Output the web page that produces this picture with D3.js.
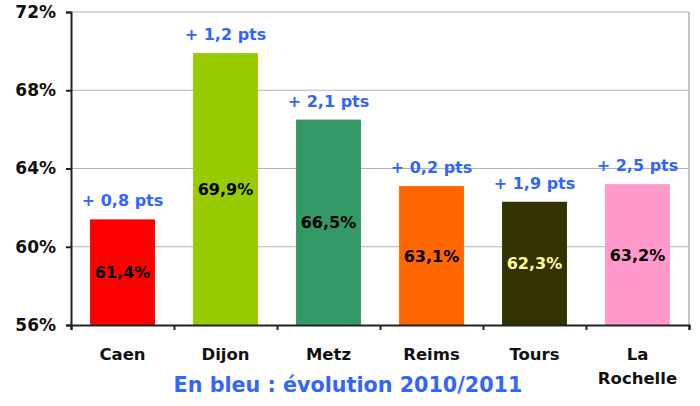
<!DOCTYPE html>
<html><head><meta charset="utf-8">
<script src="https://cdn.jsdelivr.net/npm/d3@7"></script>
<style>body{margin:0;background:#fff}svg{display:block}</style>
</head><body>
<script>
const categories = ["Caen", "Dijon", "Metz", "Reims", "Tours", "La Rochelle"];
const values = [61.4, 69.9, 66.5, 63.1, 62.3, 63.2];
const changes = ["+ 0,8 pts", "+ 1,2 pts", "+ 2,1 pts", "+ 0,2 pts", "+ 1,9 pts", "+ 2,5 pts"];
const colors = ["#ff0000", "#99cc00", "#339966", "#ff6600", "#333300", "#ff99cc"];
const labelColors = ["#000", "#000", "#000", "#000", "#ffff99", "#000"];
const yTicks = [56, 60, 64, 68, 72];
const title = "En bleu : évolution 2010/2011";

const W = 700, H = 406;
const m = {left: 71, right: 11, top: 12, bottom: 81};
const FONT = "'DejaVu Sans', sans-serif";
const BLUE = "#3366ff";

const svg = d3.select("body").append("svg").attr("width", W).attr("height", H);
const x = d3.scaleBand().domain(categories).range([m.left, W - m.right]).padding(0);
const y = d3.scaleLinear().domain([56, 72]).range([H - m.bottom, m.top]);
const bw = x.bandwidth() * 0.63;

// gridlines
svg.append("g").selectAll("line").data(yTicks.slice(1)).join("line")
  .attr("x1", m.left).attr("x2", W - m.right)
  .attr("y1", d => y(d)).attr("y2", d => y(d))
  .attr("stroke", "#b3b3b3").attr("stroke-width", 1.2);
// right border
svg.append("line").attr("x1", W - m.right).attr("x2", W - m.right)
  .attr("y1", m.top).attr("y2", H - m.bottom).attr("stroke", "#b3b3b3").attr("stroke-width", 1.5);

// bars
svg.append("g").selectAll("rect").data(values).join("rect")
  .attr("x", (d, i) => x(categories[i]) + (x.bandwidth() - bw) / 2)
  .attr("width", bw)
  .attr("y", d => y(d))
  .attr("height", d => y(56) - y(d))
  .attr("fill", (d, i) => colors[i]);

// axes
const yAxis = d3.axisLeft(y).tickValues(yTicks).tickSize(5).tickFormat(d => d + "%");
const gy = svg.append("g").attr("transform", `translate(${m.left},0)`).call(yAxis);
gy.select(".domain").attr("stroke", "#222").attr("stroke-width", 2);
gy.selectAll(".tick line").attr("stroke", "#222").attr("stroke-width", 2);
gy.selectAll(".tick text").attr("x", -15).attr("font-family", FONT).attr("font-weight", "bold")
  .attr("font-size", 17).attr("fill", "#111");

const xb = d3.scaleLinear().domain([0, categories.length]).range([m.left, W - m.right]);
const gx = svg.append("g").attr("transform", `translate(0,${H - m.bottom})`)
  .call(d3.axisBottom(xb).tickValues(d3.range(categories.length + 1)).tickSize(5).tickFormat(""));
gx.select(".domain").attr("stroke", "#222").attr("stroke-width", 2);
gx.selectAll(".tick line").attr("stroke", "#222").attr("stroke-width", 2);

// category labels
svg.append("g").selectAll("text").data(categories).join("text")
  .attr("x", d => x(d) + x.bandwidth() / 2)
  .attr("y", 360)
  .attr("text-anchor", "middle").attr("font-family", FONT).attr("font-weight", "bold")
  .attr("font-size", 16.5).attr("fill", "#111")
  .each(function(d) {
    const parts = d === "La Rochelle" ? ["La", "Rochelle"] : [d];
    const t = d3.select(this);
    parts.forEach((p, k) => t.append("tspan").attr("x", x(d) + x.bandwidth() / 2).attr("dy", k ? 24 : 0).text(p));
  });

// value labels
svg.append("g").selectAll("text").data(values).join("text")
  .attr("x", (d, i) => x(categories[i]) + x.bandwidth() / 2)
  .attr("y", d => (y(d) + y(56)) / 2 + 6)
  .attr("text-anchor", "middle").attr("font-family", FONT).attr("font-weight", "bold")
  .attr("font-size", 16).attr("fill", (d, i) => labelColors[i])
  .text(d => d.toFixed(1).replace(".", ",") + "%");

// change labels
svg.append("g").selectAll("text").data(values).join("text")
  .attr("x", (d, i) => x(categories[i]) + x.bandwidth() / 2)
  .attr("y", d => y(d) - 13)
  .attr("text-anchor", "middle").attr("font-family", FONT).attr("font-weight", "bold")
  .attr("font-size", 16).attr("fill", BLUE)
  .text((d, i) => changes[i]);

svg.append("text").attr("x", 348).attr("y", 392).attr("text-anchor", "middle")
  .attr("font-family", FONT).attr("font-weight", "bold").attr("font-size", 20.7).attr("fill", BLUE)
  .text(title);
</script>
</body></html>
